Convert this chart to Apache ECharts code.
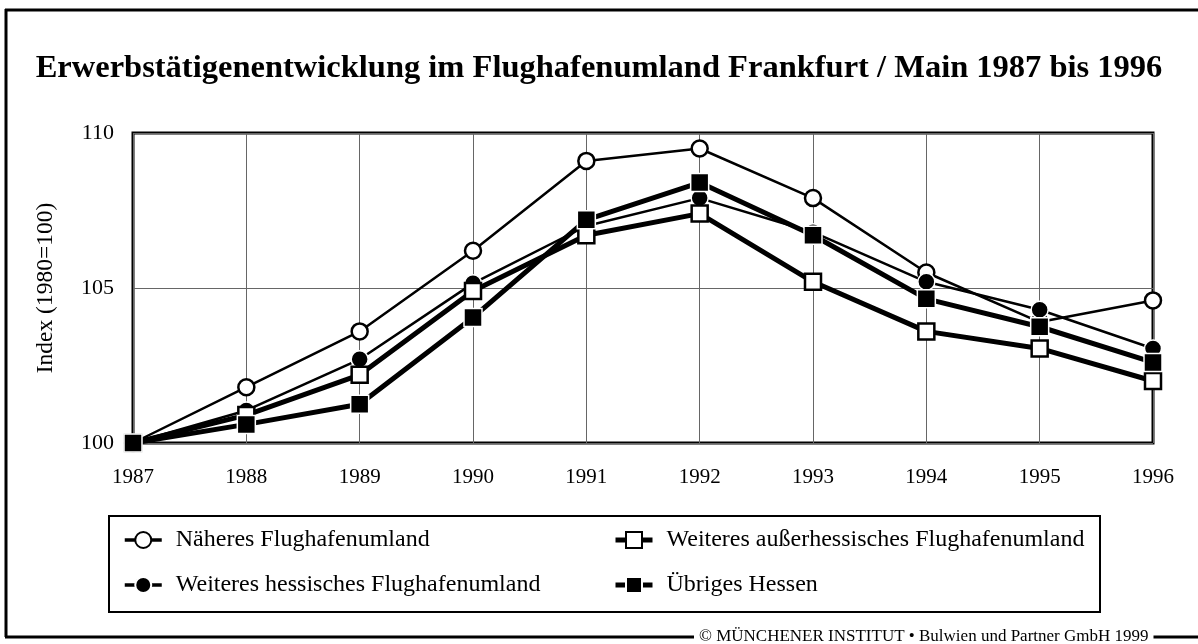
<!DOCTYPE html>
<html>
<head>
<meta charset="utf-8">
<script src="https://cdn.jsdelivr.net/npm/echarts@6/dist/echarts.min.js"></script>
<style>
  html, body { margin: 0; padding: 0; background: #fff; }
  #chart { width: 1198px; height: 644px; }
</style>
</head>
<body>
<div id="chart"></div>
<script>
'use strict';

var years = ['1987', '1988', '1989', '1990', '1991', '1992', '1993', '1994', '1995', '1996'];

// Index values (1980=100)
var naeheres = [100, 101.8, 103.6, 106.2, 109.1, 109.5, 107.9, 105.5, 103.9, 104.6];
var weiteresHess = [100, 101.05, 102.7, 105.15, 107.0, 107.9, 106.8, 105.2, 104.3, 103.05];
var weiteresAusser = [100, 100.9, 102.2, 104.9, 106.7, 107.4, 105.2, 103.6, 103.05, 102.0];
var uebriges = [100, 100.6, 101.25, 104.05, 107.2, 108.4, 106.7, 104.65, 103.75, 102.6];

var names = [
    'Näheres Flughafenumland',
    'Weiteres hessisches Flughafenumland',
    'Weiteres außerhessisches Flughafenumland',
    'Übriges Hessen'
];

var serif = 'Liberation Serif, Times New Roman, serif';

function makeSeries(name, data, symbol, filled, width, size, z) {
    return {
        name: name,
        type: 'line',
        data: data,
        z: z,
        symbol: symbol,
        symbolSize: size,
        showSymbol: true,
        lineStyle: { color: '#000', width: width },
        itemStyle: filled
            ? { color: '#000', borderColor: '#fff', borderWidth: 1.5 }
            : { color: '#fff', borderColor: '#000', borderWidth: 2.5 },
        emphasis: { disabled: true },
        animation: false
    };
}

// one legend column; lw = dash thickness in the legend icon
function legendCol(items, left, lw) {
    return {
        data: items.map(function (n) { return { name: n, lineStyle: { width: lw } }; }),
        orient: 'vertical',
        left: left, top: 528,
        padding: 0,
        itemWidth: 37, itemHeight: 20, itemGap: 21,
        textStyle: { fontFamily: serif, fontSize: 24, color: '#000', lineHeight: 24, padding: [0, 0, 0, 9] },
        selectedMode: false
    };
}

var chart = echarts.init(document.getElementById('chart'));

var option = {
    backgroundColor: '#fff',
    animation: false,
    title: {
        text: 'Erwerbstätigenentwicklung im Flughafenumland Frankfurt / Main 1987 bis 1996',
        left: 'center',
        top: 47,
        textStyle: { fontFamily: serif, fontSize: 32.5, fontWeight: 'bold', color: '#000' }
    },
    grid: {
        left: 133, right: 45, top: 133, bottom: 201,
        show: true, borderColor: '#000', borderWidth: 3, backgroundColor: 'transparent'
    },
    legend: [
        legendCol([names[0], names[1]], 123, 3.5),
        legendCol([names[2], names[3]], 613, 5)
    ],
    xAxis: {
        type: 'category',
        data: years,
        boundaryGap: false,
        axisLine: { show: false },
        axisTick: { show: false },
        axisLabel: { fontFamily: serif, fontSize: 21, color: '#000', margin: 24 },
        splitLine: { show: true, lineStyle: { color: '#666', width: 1 } }
    },
    yAxis: {
        type: 'value',
        min: 100, max: 110, interval: 5,
        name: 'Index (1980=100)',
        nameLocation: 'middle',
        nameRotate: 90,
        nameGap: 75,
        nameTextStyle: { fontFamily: serif, fontSize: 23.5, color: '#000' },
        axisLine: { show: false },
        axisTick: { show: false },
        axisLabel: { fontFamily: serif, fontSize: 22, color: '#000', margin: 19 },
        splitLine: { show: true, lineStyle: { color: '#666', width: 1 } }
    },
    series: [
        makeSeries(names[0], naeheres, 'circle', false, 2.5, 16, 2),
        makeSeries(names[1], weiteresHess, 'circle', true, 2.5, 17, 3),
        makeSeries(names[2], weiteresAusser, 'rect', false, 5, 16, 4),
        makeSeries(names[3], uebriges, 'rect', true, 5, 18, 5)
    ],
    graphic: [
        // outer frame
        { type: 'line', shape: { x1: 5, y1: 10, x2: 1198, y2: 10 }, style: { stroke: '#000', lineWidth: 3 } },
        { type: 'line', shape: { x1: 6, y1: 9, x2: 6, y2: 637 }, style: { stroke: '#000', lineWidth: 3 } },
        { type: 'line', shape: { x1: 5, y1: 637, x2: 1198, y2: 637 }, style: { stroke: '#000', lineWidth: 3 } },
        // legend box
        { type: 'rect', shape: { x: 109, y: 516, width: 991, height: 96 }, style: { fill: 'none', stroke: '#000', lineWidth: 2 } },
        // copyright
        {
            type: 'text', x: 694, y: 637, z: 10,
            style: {
                text: '© MÜNCHENER INSTITUT • Bulwien und Partner GmbH 1999',
                font: '17px ' + serif, fill: '#000',
                verticalAlign: 'middle', backgroundColor: '#fff', padding: [0, 5]
            }
        }
    ]
};

chart.setOption(option);
</script>
</body>
</html>
